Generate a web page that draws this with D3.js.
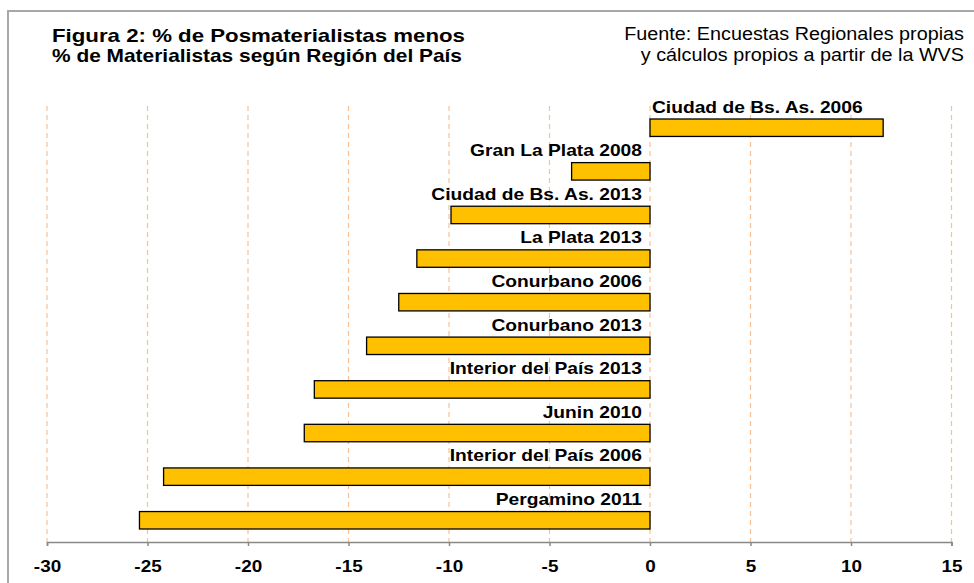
<!DOCTYPE html>
<html>
<head>
<meta charset="utf-8">
<script src="https://cdn.jsdelivr.net/npm/d3@7"></script>
<style>
  body { margin: 0; background: #fff; }
  svg { display: block; font-family: "Liberation Sans", Arial, sans-serif; }
</style>
</head>
<body>
<svg width="974" height="583"></svg>
<script>
const categories = [
  "Ciudad de Bs. As. 2006",
  "Gran La Plata 2008",
  "Ciudad de Bs. As. 2013",
  "La Plata 2013",
  "Conurbano 2006",
  "Conurbano 2013",
  "Interior del País 2013",
  "Junin 2010",
  "Interior del País 2006",
  "Pergamino 2011"
];
const values = [11.6, -3.9, -9.9, -11.6, -12.5, -14.1, -16.7, -17.2, -24.2, -25.4];
const ticks = [-30, -25, -20, -15, -10, -5, 0, 5, 10, 15];
const titleLines = ["Figura 2: % de Posmaterialistas menos", "% de Materialistas según Región del País"];
const sourceLines = ["Fuente: Encuestas Regionales propias", "y cálculos propios a partir de la WVS"];

const data = categories.map((c, i) => ({ name: c, value: values[i] }));

// the original picture is a bit stretched sideways
function widen(sel, k) {
  sel.each(function() {
    const w = this.getComputedTextLength();
    d3.select(this).attr("textLength", w * k).attr("lengthAdjust", "spacingAndGlyphs");
  });
}

const svg = d3.select("svg");

// outer frame (only top and left edges are inside the picture)
svg.append("path")
  .attr("d", "M8,583 V11 H974")
  .attr("fill", "none")
  .attr("stroke", "#a8a8a8")
  .attr("stroke-width", 2);

const x = d3.scaleLinear().domain([-30, 15]).range([47, 951.5]);
const y = d3.scaleBand().domain(categories).range([119, 529]).paddingInner(0.6).paddingOuter(0);
const axisY = 542;

// gridlines
svg.append("g")
  .selectAll("line")
  .data(ticks)
  .join("line")
  .attr("x1", d => x(d)).attr("x2", d => x(d))
  .attr("y1", 106).attr("y2", axisY)
  .attr("stroke", "#f8c195")
  .attr("stroke-width", 1.2)
  .attr("stroke-dasharray", "5,4");

// bars
svg.append("g")
  .selectAll("rect")
  .data(data)
  .join("rect")
  .attr("x", d => x(Math.min(0, d.value)))
  .attr("y", d => y(d.name))
  .attr("width", d => Math.abs(x(d.value) - x(0)))
  .attr("height", y.bandwidth())
  .attr("fill", "#ffc000")
  .attr("stroke", "#000")
  .attr("stroke-width", 1.3);

// bar labels
svg.append("g")
  .selectAll("text")
  .data(data)
  .join("text")
  .attr("x", d => d.value < 0 ? x(0) - 8 : x(0) + 2)
  .attr("y", d => y(d.name) - 6.5)
  .attr("text-anchor", d => d.value < 0 ? "end" : "start")
  .attr("font-size", 17)
  .attr("font-weight", "bold")
  .attr("fill", "#000")
  .text(d => d.name)
  .call(widen, 1.13);

// x axis
const axis = svg.append("g")
  .attr("transform", `translate(0,${axisY})`)
  .call(d3.axisBottom(x).tickValues(ticks).tickSize(4).tickPadding(6));
axis.select(".domain").attr("stroke", "#888").attr("stroke-width", 1.5);
axis.selectAll(".tick line").attr("stroke", "#888").attr("stroke-width", 1.5);
axis.selectAll(".tick text")
  .attr("font-family", "Liberation Sans, Arial, sans-serif")
  .attr("font-size", 16)
  .attr("font-weight", "bold")
  .attr("fill", "#000")
  .attr("y", 30)
  .attr("dy", 0)
  .text(d => d < 0 ? "-" + Math.abs(d) : d)
  .call(widen, 1.18);

// title (the two lines end at almost the same x in the original)
const titleWidths = [413, 410];
svg.append("g")
  .selectAll("text")
  .data(titleLines)
  .join("text")
  .attr("x", 52)
  .attr("y", (d, i) => 41.5 + i * 20)
  .attr("font-size", 19)
  .attr("font-weight", "bold")
  .attr("fill", "#000")
  .attr("textLength", (d, i) => titleWidths[i])
  .attr("lengthAdjust", "spacingAndGlyphs")
  .text(d => d);

// source note
svg.append("g")
  .selectAll("text")
  .data(sourceLines)
  .join("text")
  .attr("x", 964)
  .attr("y", (d, i) => 40 + i * 21)
  .attr("text-anchor", "end")
  .attr("font-size", 17.5)
  .attr("fill", "#000")
  .text(d => d)
  .call(widen, 1.13);
</script>
</body>
</html>
